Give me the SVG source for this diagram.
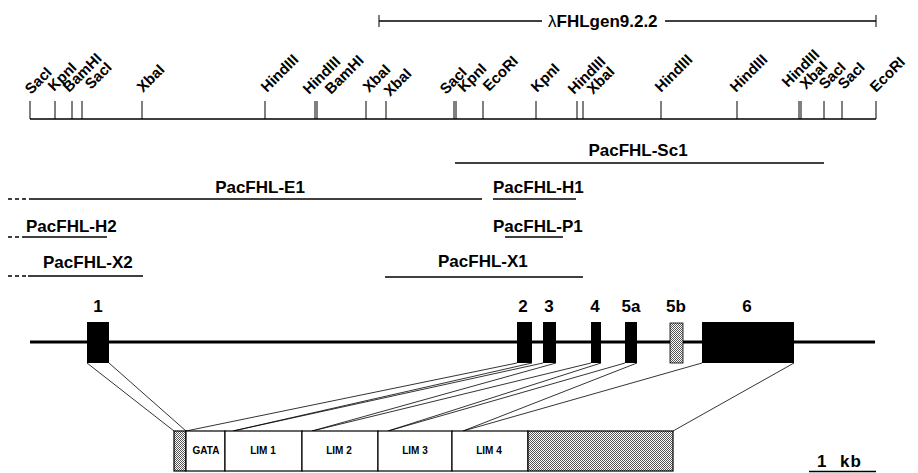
<svg xmlns="http://www.w3.org/2000/svg" width="918" height="473" viewBox="0 0 918 473">
<defs>
<pattern id="stip" width="2" height="2" patternUnits="userSpaceOnUse">
<rect width="2" height="2" fill="#fff"/>
<rect x="0" y="0" width="1" height="1" fill="#555"/>
<rect x="1" y="1" width="1" height="1" fill="#555"/>
</pattern>
</defs>
<style>
text{font-family:"Liberation Sans",Arial,sans-serif;font-weight:bold;fill:#000}
.re{font-size:15px}
.cl{font-size:17px}
.ex{font-size:17px;text-anchor:middle}
.dm{font-size:10px;text-anchor:middle}
.ln{stroke:#000;fill:none}
.tick{stroke:#000;stroke-width:1}
.clone{stroke:#000;stroke-width:1.3}
.dash{stroke:#000;stroke-width:1.3;stroke-dasharray:4 3}
.exon{fill:#000}
.conn line{stroke:#000;stroke-width:0.8}
</style>
<rect width="918" height="473" fill="#fff"/>

<g id="lambda-clone">
<line class="clone" x1="379" y1="21" x2="542" y2="21"/>
<line class="clone" x1="665" y1="21" x2="876" y2="21"/>
<line class="tick" x1="379" y1="15" x2="379" y2="27"/>
<line class="tick" x1="876" y1="15" x2="876" y2="27"/>
<text class="cl" x="548" y="27"><tspan font-weight="normal">λ</tspan>FHLgen9.2.2</text>
</g>

<g id="restriction-map">
<line class="ln" x1="30" y1="119" x2="876" y2="119" stroke-width="1.6"/>
<g id="sites">
<line class="tick" x1="30" y1="101" x2="30" y2="119"/>
<line class="tick" x1="55" y1="101" x2="55" y2="119"/>
<line class="tick" x1="72" y1="101" x2="72" y2="119"/>
<line class="tick" x1="82" y1="101" x2="82" y2="119"/>
<line class="tick" x1="142" y1="101" x2="142" y2="119"/>
<line class="tick" x1="265" y1="101" x2="265" y2="119"/>
<line class="tick" x1="315" y1="101" x2="315" y2="119"/>
<line class="tick" x1="317" y1="101" x2="317" y2="119"/>
<line class="tick" x1="366" y1="101" x2="366" y2="119"/>
<line class="tick" x1="386" y1="101" x2="386" y2="119"/>
<line class="tick" x1="454" y1="101" x2="454" y2="119"/>
<line class="tick" x1="456" y1="101" x2="456" y2="119"/>
<line class="tick" x1="483" y1="101" x2="483" y2="119"/>
<line class="tick" x1="536" y1="101" x2="536" y2="119"/>
<line class="tick" x1="577" y1="101" x2="577" y2="119"/>
<line class="tick" x1="583" y1="101" x2="583" y2="119"/>
<line class="tick" x1="661" y1="101" x2="661" y2="119"/>
<line class="tick" x1="737" y1="101" x2="737" y2="119"/>
<line class="tick" x1="799" y1="101" x2="799" y2="119"/>
<line class="tick" x1="801" y1="101" x2="801" y2="119"/>
<line class="tick" x1="824" y1="101" x2="824" y2="119"/>
<line class="tick" x1="842" y1="101" x2="842" y2="119"/>
<line class="tick" x1="876" y1="101" x2="876" y2="119"/>
</g>
<g id="site-labels">
<text class="re" transform="translate(31,95) rotate(-45)">SacI</text>
<text class="re" transform="translate(54,92) rotate(-45)">KpnI</text>
<text class="re" transform="translate(69,93) rotate(-45)">BamHI</text>
<text class="re" transform="translate(91,90) rotate(-45)">SacI</text>
<text class="re" transform="translate(143,93) rotate(-45)">XbaI</text>
<text class="re" transform="translate(267,93) rotate(-45)">HindIII</text>
<text class="re" transform="translate(309,95) rotate(-45)">HindIII</text>
<text class="re" transform="translate(331,95) rotate(-45)">BamHI</text>
<text class="re" transform="translate(369,93) rotate(-45)">XbaI</text>
<text class="re" transform="translate(390,97) rotate(-45)">XbaI</text>
<text class="re" transform="translate(446,95) rotate(-45)">SacI</text>
<text class="re" transform="translate(464,93) rotate(-45)">KpnI</text>
<text class="re" transform="translate(489,92) rotate(-45)">EcoRI</text>
<text class="re" transform="translate(537,93) rotate(-45)">KpnI</text>
<text class="re" transform="translate(574,95) rotate(-45)">HindIII</text>
<text class="re" transform="translate(593,95) rotate(-45)">XbaI</text>
<text class="re" transform="translate(661,93) rotate(-45)">HindIII</text>
<text class="re" transform="translate(736,93) rotate(-45)">HindIII</text>
<text class="re" transform="translate(788,88) rotate(-45)">HindIII</text>
<text class="re" transform="translate(806,90) rotate(-45)">XbaI</text>
<text class="re" transform="translate(825,90) rotate(-45)">SacI</text>
<text class="re" transform="translate(844,90) rotate(-45)">SacI</text>
<text class="re" transform="translate(876,93) rotate(-45)">EcoRI</text>
</g>
</g>

<g id="clone-Sc1">
<line class="clone" x1="455" y1="163" x2="824" y2="163"/>
<text class="cl" x="638" y="156" text-anchor="middle">PacFHL-Sc1</text>
</g>
<g id="clone-E1">
<line class="dash" x1="8" y1="199" x2="30" y2="199"/>
<line class="clone" x1="30" y1="199" x2="482" y2="199"/>
<text class="cl" x="260" y="193" text-anchor="middle">PacFHL-E1</text>
</g>
<g id="clone-H1">
<line class="clone" x1="493" y1="199" x2="576" y2="199"/>
<text class="cl" x="493" y="193">PacFHL-H1</text>
</g>
<g id="clone-H2">
<line class="dash" x1="8" y1="237" x2="26" y2="237"/>
<line class="clone" x1="26" y1="237" x2="107" y2="237"/>
<text class="cl" x="26" y="232">PacFHL-H2</text>
</g>
<g id="clone-P1">
<line class="clone" x1="505" y1="237" x2="563" y2="237" stroke-width="1"/>
<text class="cl" x="493" y="232">PacFHL-P1</text>
</g>
<g id="clone-X2">
<line class="dash" x1="8" y1="276" x2="28" y2="276"/>
<line class="clone" x1="28" y1="276" x2="143" y2="276"/>
<text class="cl" x="43" y="268">PacFHL-X2</text>
</g>
<g id="clone-X1">
<line class="clone" x1="385" y1="277" x2="583" y2="277"/>
<text class="cl" x="438" y="267">PacFHL-X1</text>
</g>

<g id="gene">
<line class="ln" x1="30" y1="342" x2="875" y2="342" stroke-width="3"/>
</g>
<g id="exon-1"><rect class="exon" x="87" y="322" width="22" height="41"/><text class="ex" x="98" y="312">1</text></g>
<g id="exon-2"><rect class="exon" x="517" y="322" width="15" height="41"/><text class="ex" x="523" y="312">2</text></g>
<g id="exon-3"><rect class="exon" x="543" y="322" width="13" height="41"/><text class="ex" x="549" y="312">3</text></g>
<g id="exon-4"><rect class="exon" x="591" y="322" width="10" height="41"/><text class="ex" x="595" y="312">4</text></g>
<g id="exon-5a"><rect class="exon" x="625" y="322" width="12" height="41"/><text class="ex" x="631" y="312">5a</text></g>
<g id="exon-5b"><rect x="670" y="323" width="13" height="40" fill="url(#stip)" stroke="#000" stroke-width="0.8"/><text class="ex" x="676" y="312">5b</text></g>
<g id="exon-6"><rect class="exon" x="702" y="322" width="92" height="41"/><text class="ex" x="747" y="312">6</text></g>

<g id="connectors" class="conn">
<line x1="87" y1="363" x2="174" y2="431"/>
<line x1="109" y1="363" x2="186" y2="431"/>
<line x1="517" y1="363" x2="186" y2="431"/>
<line x1="532" y1="363" x2="233" y2="431"/>
<line x1="543" y1="363" x2="233" y2="431"/>
<line x1="556" y1="363" x2="312" y2="431"/>
<line x1="591" y1="363" x2="312" y2="431"/>
<line x1="601" y1="363" x2="388" y2="431"/>
<line x1="625" y1="363" x2="388" y2="431"/>
<line x1="637" y1="363" x2="463" y2="431"/>
<line x1="702" y1="363" x2="463" y2="431"/>
<line x1="794" y1="363" x2="673" y2="431"/>
</g>

<g id="protein">
<g id="utr5"><rect x="174" y="431" width="12" height="40" fill="url(#stip)" stroke="#000" stroke-width="1.2"/></g>
<g id="dom-GATA"><rect x="186" y="431" width="39" height="40" fill="#fff" stroke="#000" stroke-width="1.2"/><text class="dm" x="206" y="454">GATA</text></g>
<g id="dom-LIM1"><rect x="225" y="431" width="77" height="40" fill="#fff" stroke="#000" stroke-width="1.2"/><text class="dm" x="263" y="454">LIM 1</text></g>
<g id="dom-LIM2"><rect x="302" y="431" width="76" height="40" fill="#fff" stroke="#000" stroke-width="1.2"/><text class="dm" x="339" y="454">LIM 2</text></g>
<g id="dom-LIM3"><rect x="378" y="431" width="74" height="40" fill="#fff" stroke="#000" stroke-width="1.2"/><text class="dm" x="415" y="454">LIM 3</text></g>
<g id="dom-LIM4"><rect x="452" y="431" width="76" height="40" fill="#fff" stroke="#000" stroke-width="1.2"/><text class="dm" x="489" y="454">LIM 4</text></g>
<g id="utr3"><rect x="528" y="431" width="145" height="40" fill="url(#stip)" stroke="#000" stroke-width="1.2"/></g>
</g>

<g id="scale-bar">
<line class="clone" x1="809" y1="471.5" x2="876" y2="471.5" stroke-width="1.6"/>
<text class="cl" x="817" y="467" font-size="18">1</text>
<text class="cl" x="840" y="467" font-size="18" letter-spacing="1">kb</text>
</g>
</svg>
